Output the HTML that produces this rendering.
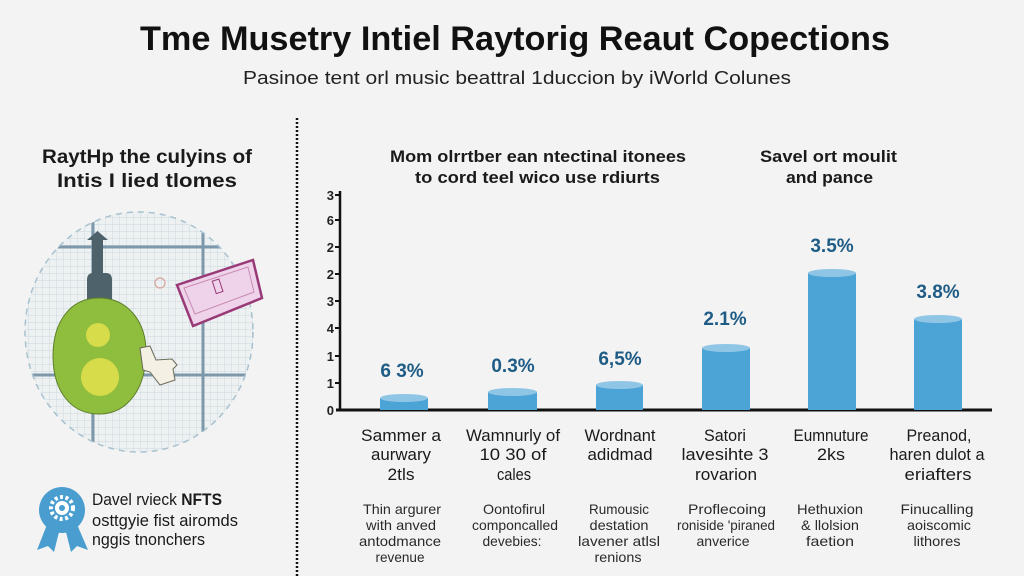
<!DOCTYPE html>
<html><head><meta charset="utf-8"><style>
html,body{margin:0;padding:0;background:#f3f3f3;}
svg{display:block;font-family:"Liberation Sans",sans-serif;}
</style></head><body>
<svg width="1024" height="576" viewBox="0 0 1024 576" xmlns="http://www.w3.org/2000/svg">
<defs>
<pattern id="grid" width="7" height="7" patternUnits="userSpaceOnUse">
<path d="M7 0 L0 0 0 7" fill="none" stroke="#c9d6dd" stroke-width="0.9"/>
</pattern>
<clipPath id="circ"><ellipse cx="139" cy="332" rx="114" ry="120"/></clipPath>
</defs>
<rect width="1024" height="576" fill="#f3f3f3"/>

<text x="140" y="50" font-size="34" font-weight="bold" fill="#111" textLength="750" lengthAdjust="spacingAndGlyphs">Tme Musetry Intiel Raytorig Reaut Copections</text>
<text x="243" y="84" font-size="18" fill="#222" textLength="548" lengthAdjust="spacingAndGlyphs">Pasinoe tent orl music beattral 1duccion by iWorld Colunes</text>

<line x1="297" y1="118" x2="297" y2="576" stroke="#111" stroke-width="2.5" stroke-dasharray="2 2"/>

<text x="42" y="163" font-size="19" font-weight="bold" fill="#1a1a1a" textLength="210" lengthAdjust="spacingAndGlyphs">RaytHp the culyins of</text>
<text x="57" y="187" font-size="19" font-weight="bold" fill="#1a1a1a" textLength="180" lengthAdjust="spacingAndGlyphs">Intis I lied tlomes</text>

<g clip-path="url(#circ)">
<rect x="20" y="205" width="240" height="255" fill="#eef1f1"/>
<rect x="20" y="205" width="240" height="255" fill="url(#grid)"/>
<line x1="20" y1="247" x2="260" y2="247" stroke="#7d98aa" stroke-width="3"/>
<line x1="20" y1="375" x2="260" y2="375" stroke="#7d98aa" stroke-width="3"/>
<line x1="93" y1="205" x2="93" y2="460" stroke="#7d98aa" stroke-width="3"/>
<line x1="203" y1="205" x2="203" y2="460" stroke="#7d98aa" stroke-width="3"/>
</g>
<ellipse cx="139" cy="332" rx="114" ry="120" fill="none" stroke="#a8c2d0" stroke-width="1.5" stroke-dasharray="6 5"/>
<circle cx="160" cy="283" r="5" fill="none" stroke="#d9a39a" stroke-width="1.2"/>
<!-- bottle -->
<path d="M92 300 L92 240 L87 240 L97.5 231 L108 240 L103 240 L103 300 Z" fill="#4d626b"/>
<path d="M87 302 L87 280 Q87 273 93 273 L106 273 Q112 273 112 280 L112 302 Z" fill="#4d626b"/>
<!-- green blob -->
<path d="M99 298 C128 298 146 322 146 352 C146 388 128 414 99 414 C70 414 53 390 53 356 C53 322 70 298 99 298 Z" fill="#8fbd3e" stroke="#5c7f2a" stroke-width="1"/>
<circle cx="98" cy="335" r="12" fill="#d7dc4a"/>
<circle cx="100" cy="377" r="19" fill="#d7dc4a"/>
<!-- hand -->
<path d="M140 348 L150 346 L156 360 L172 359 L177 365 L173 369 L175 380 L160 385 L150 372 L143 370 Z" fill="#f4f1e4" stroke="#6a6a5a" stroke-width="1"/>
<!-- pink card -->
<polygon points="177,285 253,260 262,298 193,326" fill="#efd3ea" stroke="#983a78" stroke-width="2.5"/>
<polygon points="184,288 248,267 254,292 195,314" fill="none" stroke="#c98bb5" stroke-width="1"/>
<rect x="214" y="280" width="7" height="13" fill="none" stroke="#983a78" stroke-width="1" transform="rotate(-18 217 286)"/>

<!-- badge -->
<path d="M48 522 L37 550 L48 546 L54 552 L60 528 Z" fill="#4a9dcf"/>
<path d="M76 522 L88 550 L77 546 L71 552 L65 528 Z" fill="#4a9dcf"/>
<circle cx="62" cy="510" r="23" fill="#4a9dcf"/>
<circle cx="62" cy="508" r="11" fill="none" stroke="#fff" stroke-width="4" stroke-dasharray="3 2.5"/>
<circle cx="62" cy="508" r="7" fill="#fff"/>
<circle cx="62" cy="508" r="3" fill="#4a9dcf"/>
<text x="92" y="505" font-size="17" fill="#1a1a1a" textLength="130" lengthAdjust="spacingAndGlyphs">Davel rvieck <tspan font-weight="bold">NFTS</tspan></text>
<text x="92" y="526" font-size="17" fill="#1a1a1a" textLength="146" lengthAdjust="spacingAndGlyphs">osttgyie fist airomds</text>
<text x="92" y="545" font-size="17" fill="#1a1a1a" textLength="113" lengthAdjust="spacingAndGlyphs">nggis tnonchers</text>

<!-- chart titles -->
<text x="390" y="162" font-size="17" font-weight="bold" fill="#1a1a1a" textLength="296" lengthAdjust="spacingAndGlyphs">Mom olrrtber ean ntectinal itonees</text>
<text x="415" y="183" font-size="17" font-weight="bold" fill="#1a1a1a" textLength="245" lengthAdjust="spacingAndGlyphs">to cord teel wico use rdiurts</text>
<text x="760" y="162" font-size="17" font-weight="bold" fill="#1a1a1a" textLength="137" lengthAdjust="spacingAndGlyphs">Savel ort moulit</text>
<text x="786" y="183" font-size="17" font-weight="bold" fill="#1a1a1a" textLength="87" lengthAdjust="spacingAndGlyphs">and pance</text>

<!-- axes -->
<line x1="340" y1="191" x2="340" y2="411" stroke="#111" stroke-width="2.5"/>
<line x1="336" y1="410" x2="992" y2="410" stroke="#111" stroke-width="3"/>
<g stroke="#111" stroke-width="2">
<line x1="335" y1="195" x2="340" y2="195"/><line x1="335" y1="220" x2="340" y2="220"/>
<line x1="335" y1="247" x2="340" y2="247"/><line x1="335" y1="274" x2="340" y2="274"/>
<line x1="335" y1="301" x2="340" y2="301"/><line x1="335" y1="328" x2="340" y2="328"/>
<line x1="335" y1="356" x2="340" y2="356"/><line x1="335" y1="383" x2="340" y2="383"/>
</g>
<g font-size="13" font-weight="bold" fill="#222" text-anchor="end">
<text x="334" y="200">3</text><text x="334" y="225">6</text><text x="334" y="252">2</text>
<text x="334" y="279">2</text><text x="334" y="306">3</text><text x="334" y="333">4</text>
<text x="334" y="361">1</text><text x="334" y="388">1</text><text x="334" y="415">0</text>
</g>

<!-- bars -->
<g fill="#4ca3d5">
<rect x="380" y="398" width="48" height="12"/>
<rect x="488" y="392" width="49" height="18"/>
<rect x="596" y="385" width="47" height="25"/>
<rect x="702" y="348" width="48" height="62"/>
<rect x="808" y="273" width="48" height="137"/>
<rect x="914" y="319" width="48" height="91"/>
</g>
<g fill="#8fc6e6">
<ellipse cx="404" cy="398" rx="24" ry="4"/>
<ellipse cx="512.5" cy="392" rx="24.5" ry="4"/>
<ellipse cx="619.5" cy="385" rx="23.5" ry="4"/>
<ellipse cx="726" cy="348" rx="24" ry="4"/>
<ellipse cx="832" cy="273" rx="24" ry="4"/>
<ellipse cx="938" cy="319" rx="24" ry="4"/>
</g>
<g font-size="19" font-weight="bold" fill="#1e5c86" text-anchor="middle">
<text x="402" y="377">6 3%</text>
<text x="513" y="372">0.3%</text>
<text x="620" y="365">6,5%</text>
<text x="725" y="325">2.1%</text>
<text x="832" y="252">3.5%</text>
<text x="938" y="298">3.8%</text>
</g>

<!-- category labels -->
<g font-size="17" fill="#1a1a1a" text-anchor="middle">
<text x="401" y="441" textLength="80" lengthAdjust="spacingAndGlyphs">Sammer a</text>
<text x="401" y="460" textLength="60" lengthAdjust="spacingAndGlyphs">aurwary</text>
<text x="401" y="480" textLength="27" lengthAdjust="spacingAndGlyphs">2tls</text>
<text x="513" y="441" textLength="94" lengthAdjust="spacingAndGlyphs">Wamnurly of</text>
<text x="513" y="460" textLength="67" lengthAdjust="spacingAndGlyphs">10 30 of</text>
<text x="514" y="480" textLength="34" lengthAdjust="spacingAndGlyphs">cales</text>
<text x="620" y="441" textLength="71" lengthAdjust="spacingAndGlyphs">Wordnant</text>
<text x="620" y="460" textLength="65" lengthAdjust="spacingAndGlyphs">adidmad</text>
<text x="725" y="441" textLength="42" lengthAdjust="spacingAndGlyphs">Satori</text>
<text x="725" y="460" textLength="87" lengthAdjust="spacingAndGlyphs">lavesihte 3</text>
<text x="726" y="480" textLength="62" lengthAdjust="spacingAndGlyphs">rovarion</text>
<text x="831" y="441" textLength="75" lengthAdjust="spacingAndGlyphs">Eumnuture</text>
<text x="831" y="460" textLength="28" lengthAdjust="spacingAndGlyphs">2ks</text>
<text x="939" y="441" textLength="65" lengthAdjust="spacingAndGlyphs">Preanod,</text>
<text x="937" y="460" textLength="95" lengthAdjust="spacingAndGlyphs">haren dulot a</text>
<text x="938" y="480" textLength="67" lengthAdjust="spacingAndGlyphs">eriafters</text>
</g>
<g font-size="14" fill="#2a2a2a" text-anchor="middle">
<text x="402" y="514" textLength="78" lengthAdjust="spacingAndGlyphs">Thin argurer</text>
<text x="401" y="530" textLength="70" lengthAdjust="spacingAndGlyphs">with anved</text>
<text x="400" y="546" textLength="82" lengthAdjust="spacingAndGlyphs">antodmance</text>
<text x="400" y="562" textLength="49" lengthAdjust="spacingAndGlyphs">revenue</text>
<text x="514" y="514" textLength="62" lengthAdjust="spacingAndGlyphs">Oontofirul</text>
<text x="515" y="530" textLength="86" lengthAdjust="spacingAndGlyphs">componcalled</text>
<text x="512" y="546" textLength="59" lengthAdjust="spacingAndGlyphs">devebies:</text>
<text x="619" y="514" textLength="60" lengthAdjust="spacingAndGlyphs">Rumousic</text>
<text x="619" y="530" textLength="59" lengthAdjust="spacingAndGlyphs">destation</text>
<text x="619" y="546" textLength="82" lengthAdjust="spacingAndGlyphs">lavener atlsl</text>
<text x="618" y="562" textLength="47" lengthAdjust="spacingAndGlyphs">renions</text>
<text x="727" y="514" textLength="78" lengthAdjust="spacingAndGlyphs">Proflecoing</text>
<text x="726" y="530" textLength="98" lengthAdjust="spacingAndGlyphs">roniside 'piraned</text>
<text x="723" y="546" textLength="53" lengthAdjust="spacingAndGlyphs">anverice</text>
<text x="830" y="514" textLength="66" lengthAdjust="spacingAndGlyphs">Hethuxion</text>
<text x="830" y="530" textLength="58" lengthAdjust="spacingAndGlyphs">&amp; llolsion</text>
<text x="830" y="546" textLength="48" lengthAdjust="spacingAndGlyphs">faetion</text>
<text x="937" y="514" textLength="73" lengthAdjust="spacingAndGlyphs">Finucalling</text>
<text x="939" y="530" textLength="64" lengthAdjust="spacingAndGlyphs">aoiscomic</text>
<text x="937" y="546" textLength="47" lengthAdjust="spacingAndGlyphs">lithores</text>
</g>
</svg>
</body></html>
